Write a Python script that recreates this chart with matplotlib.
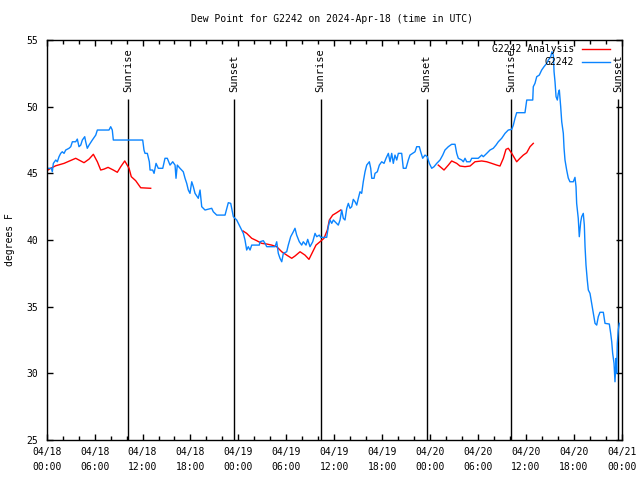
import datetime as dt
import numpy as np
import matplotlib
matplotlib.use("Agg")
import matplotlib.pyplot as plt
import matplotlib.dates as mdates

plt.rcParams['font.family'] = ['DejaVu Sans Mono']
plt.rcParams['font.size'] = 7

base = dt.datetime(2024, 4, 18, 0, 0)

# observed dew point (hours after 04/18 00:00 UTC, deg F)
obs_hours = [0.16, 0.58, 0.70, 0.83, 1.13, 1.33, 1.54, 1.75, 1.95, 2.17, 2.38, 2.79, 3.01, 3.21, 3.63,
             3.83, 4.04, 4.26, 4.46, 4.76, 4.88, 5.08, 5.30, 5.71, 6.14, 6.34, 7.80, 8.01, 8.21, 8.34,
             11.77, 12.02, 12.18, 12.31, 12.60, 12.85, 12.94, 13.27, 13.44, 13.69, 13.97, 14.53, 14.81,
             15.10, 15.44, 15.78, 16.07, 16.19, 16.35, 16.69, 17.10, 17.32, 17.53, 17.73, 17.94, 18.16,
             18.36, 18.57, 18.98, 19.20, 19.41, 19.82, 20.66, 20.86, 21.29, 22.33, 22.74, 23.04, 23.37,
             23.79, 24.21, 24.62, 24.83, 25.04, 25.24, 25.46, 25.67, 26.62, 26.71, 27.12, 27.34, 27.55,
             28.59, 28.80, 29.00, 29.21, 29.43, 29.63, 30.05, 30.25, 30.55, 30.88, 31.09, 31.30, 31.63,
             31.93, 32.13, 32.47, 32.68, 32.97, 33.31, 33.60, 33.81, 34.13, 34.31, 35.06, 35.26, 35.47,
             35.69, 35.89, 36.31, 36.51, 36.73, 36.94, 37.14, 37.35, 37.57, 37.77, 37.98, 38.19, 38.39,
             38.61, 38.82, 39.02, 39.23, 39.44, 39.64, 39.86, 40.07, 40.40, 40.57, 40.70, 40.99, 41.11,
             41.40, 41.65, 41.95, 42.24, 42.49, 42.78, 42.99, 43.20, 43.40, 43.61, 43.83, 44.03, 44.45,
             44.65, 44.99, 45.28, 45.49, 45.83, 46.12, 46.33, 46.66, 46.83, 47.08, 47.37, 47.66, 47.91,
             48.21, 48.50, 48.84, 49.25, 49.59, 49.87, 50.29, 50.71, 51.13, 51.34, 51.54, 51.97, 52.17,
             52.38, 52.59, 53.01, 53.22, 54.04, 54.47, 54.67, 55.10, 55.51, 55.92, 56.26, 56.55, 56.97,
             57.39, 57.80, 58.23, 58.43, 58.64, 58.85, 59.89, 60.11, 60.86, 60.93, 61.14, 61.36, 61.68,
             61.98, 62.27, 62.61, 62.81, 63.11, 63.27, 63.44, 63.53, 63.65, 63.78, 63.94, 64.06, 64.19,
             64.36, 64.49, 64.69, 64.78, 64.90, 65.11, 65.31, 65.52, 65.94, 66.15, 66.28, 66.36, 66.56,
             66.69, 66.87, 66.99, 67.19, 67.32, 67.41, 67.53, 67.69, 67.82, 68.03, 68.24, 68.44, 68.66,
             68.87, 69.07, 69.28, 69.70, 69.91, 70.45, 70.62, 70.75, 70.87, 71.04, 71.16, 71.29, 71.37,
             71.45, 71.57, 71.70]
obs_dew = [45.38, 45.38, 45.12, 45.75, 46.0, 45.87, 46.25, 46.5, 46.62, 46.5, 46.75, 46.88, 47.0, 47.37, 47.37,
           47.57, 47.0, 47.12, 47.5, 47.75, 47.37, 46.88, 47.12, 47.5, 47.87, 48.25, 48.25, 48.5, 48.25, 47.5,
           47.5, 47.5, 46.75, 46.5, 46.5, 45.87, 45.25, 45.25, 45.0, 45.75, 45.38, 45.38, 46.13,
           46.13, 45.62, 45.87, 45.62, 44.63, 45.62, 45.38, 45.12, 44.63, 44.25, 43.75, 43.5, 44.37,
           44.0, 43.5, 43.13, 43.75, 42.5, 42.25, 42.38, 42.12, 41.87, 41.87, 42.8, 42.75, 41.75,
           41.5, 41.0, 40.5, 40.0, 39.25, 39.5, 39.25, 39.62, 39.62, 39.87, 39.95, 39.75, 39.5,
           39.5, 39.87, 39.0, 38.63, 38.37, 39.0, 39.12, 39.62, 40.25, 40.62, 40.88, 40.37, 39.87,
           39.62, 39.87, 39.62, 40.05, 39.5, 39.87, 40.5, 40.25, 40.37, 40.2, 40.2, 41.0, 41.5,
           41.25, 41.5, 41.25, 41.12, 41.5, 42.25, 41.63, 41.5, 42.38, 42.75, 42.38, 42.5, 43.05,
           42.87, 42.62, 43.13, 43.62, 43.5, 44.37, 45.12, 45.62, 45.87, 45.38, 44.63, 44.63, 45.0,
           45.12, 45.62, 45.87, 45.75, 46.13, 46.5, 45.87, 46.5, 45.75, 46.37, 46.0, 46.5, 46.5,
           45.38, 45.38, 46.0, 46.37, 46.5, 46.62, 47.0, 47.0, 46.62, 46.13, 46.37, 46.25, 45.75,
           45.38, 45.5, 45.75, 46.0, 46.37, 46.75, 47.0, 47.18, 47.18, 46.5, 46.13, 46.0, 45.87,
           46.13, 45.87, 45.87, 46.13, 46.13, 46.37, 46.25, 46.5, 46.75, 46.88, 47.12, 47.37, 47.63,
           48.0, 48.25, 48.3, 48.62, 49.13, 49.55, 49.55, 50.5, 50.5, 51.5, 51.75, 52.25, 52.37,
           52.75, 53.0, 53.25, 53.5, 53.75, 54.12, 53.87, 52.62, 51.87, 50.75, 50.5, 51.0, 51.25,
           50.0, 48.87, 48.0, 46.9, 46.0, 45.25, 44.65, 44.37, 44.37, 44.7, 44.0, 42.75, 41.63,
           40.25, 41.37, 41.75, 42.0, 41.12, 39.5, 38.12, 37.0, 36.25, 36.0, 35.25, 34.5, 33.75,
           33.62, 34.25, 34.58, 34.58, 33.75, 33.7, 33.0, 32.37, 31.5, 30.75, 29.37, 31.12, 30.0,
           32.25, 33.25, 33.75]

# analysis dew point, three pieces
ana1_hours = [0.16, 0.50, 1.13, 2.17, 3.63, 4.67, 5.30, 5.84, 6.34, 6.76, 7.18, 7.68, 8.34, 8.84,
              9.27, 9.77, 10.31, 10.59, 11.14, 11.77, 13.02]
ana1_dew = [45.25, 45.38, 45.57, 45.75, 46.13, 45.8, 46.07, 46.43, 45.87, 45.25, 45.32, 45.45, 45.25, 45.08,
            45.5, 45.93, 45.38, 44.75, 44.45, 43.92, 43.88]
ana2_hours = [24.58, 25.04, 25.67, 26.30, 26.92, 27.55, 28.17, 28.80, 29.43, 30.05, 30.68, 31.09, 31.72,
              32.34, 32.84, 33.31, 33.72, 34.22, 34.72, 35.14, 35.39, 35.81, 36.31, 36.81]
ana2_dew = [40.68, 40.5, 40.13, 39.95, 39.75, 39.7, 39.62, 39.5, 39.12, 38.87, 38.63, 38.8, 39.12,
            38.87, 38.55, 39.12, 39.62, 39.87, 40.13, 40.75, 41.5, 41.87, 42.05, 42.25]
ana3_hours = [49.03, 49.75, 50.29, 50.71, 51.34, 51.75, 52.38, 53.01, 53.63, 54.47, 55.10, 55.72, 56.35,
              56.76, 57.18, 57.51, 57.80, 58.23, 58.85, 59.26, 59.68, 60.11, 60.52, 60.93]
ana3_dew = [45.62, 45.25, 45.62, 45.93, 45.75, 45.55, 45.5, 45.55, 45.87, 45.93, 45.87, 45.75, 45.62,
            45.55, 46.13, 46.8, 46.88, 46.5, 45.87, 46.13, 46.37, 46.55, 47.0, 47.25]

sun_hours = [10.22, 23.47, 34.31, 47.58, 58.14, 71.57]
sun_labels = ['Sunrise', 'Sunset', 'Sunrise', 'Sunset', 'Sunrise', 'Sunset']


def to_time(hours):
    return [base + dt.timedelta(hours=h) for h in hours]


fig = plt.figure(figsize=(6.4, 4.8), dpi=100)
ax = fig.add_axes([0.073, 0.0833, 0.8984, 0.8333])

for h, lab in zip(sun_hours, sun_labels):
    t = base + dt.timedelta(hours=h)
    ax.vlines(t, 25, 50.6, color='black', lw=1.0)
    ax.text(t, 51.1, lab, rotation=90, rotation_mode='anchor', ha='left', va='center',
            fontsize=7.5)

ax.plot(to_time(ana1_hours), ana1_dew, color='#ff0000', lw=1.0, label='G2242 Analysis')
ax.plot(to_time(ana2_hours), ana2_dew, color='#ff0000', lw=1.0)
ax.plot(to_time(ana3_hours), ana3_dew, color='#ff0000', lw=1.0)
ax.plot(to_time(obs_hours), obs_dew, color='#0a84ff', lw=1.0, label='G2242')

ax.set_xlim(base, base + dt.timedelta(hours=72))
ax.set_ylim(25, 55)
ax.set_yticks(np.arange(25, 56, 5))
ax.xaxis.set_major_locator(mdates.HourLocator(byhour=[0, 6, 12, 18]))
ax.xaxis.set_minor_locator(mdates.HourLocator(byhour=range(0, 24, 2)))
ax.xaxis.set_major_formatter(mdates.DateFormatter('%m/%d\n%H:%M'))
ax.tick_params(which='both', direction='in', top=True, right=True, colors='black')
ax.tick_params(which='major', length=4, width=1)
ax.tick_params(which='minor', length=3, width=1)
ax.tick_params(axis='x', pad=5)
ax.tick_params(axis='y', pad=6)
for lbl in ax.get_xticklabels():
    lbl.set_linespacing(1.65)
for s in ax.spines.values():
    s.set_linewidth(1.0)

ax.legend(loc='upper right', bbox_to_anchor=(0.98, 0.99), frameon=False, markerfirst=False,
          borderpad=0, borderaxespad=0, handlelength=2.9, handletextpad=0.8, labelspacing=0.35)

fig.text(0.5195, 0.96, 'Dew Point for G2242 on 2024-Apr-18 (time in UTC)', ha='center', va='center')
fig.text(0.016, 0.5, 'degrees F', rotation=90, ha='center', va='center')

fig.savefig('out.png', dpi=100)
